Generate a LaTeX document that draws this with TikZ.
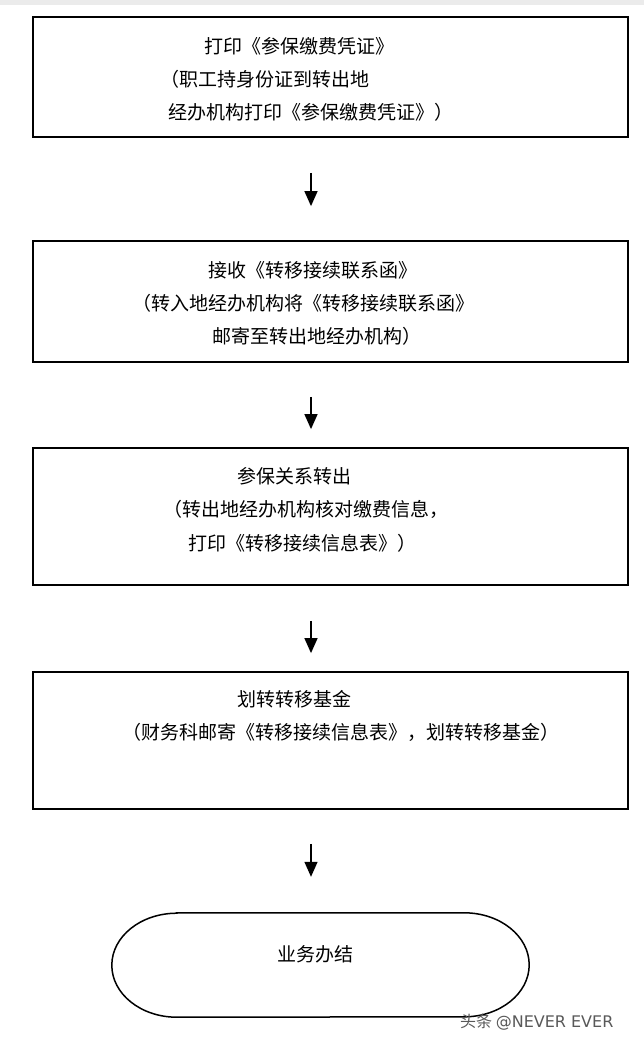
\documentclass[tikz,border=0pt]{standalone}
\usepackage{fontspec}
\setmainfont{Noto Sans CJK SC}
\newfontfamily\wmlatin{DejaVu Sans}
\usetikzlibrary{arrows.meta}
\tikzset{
  x=1pt,y=1pt,
  stepbox/.style={draw=black,line width=1.8pt,rectangle,inner sep=0pt,minimum width=595pt},
  txt/.style={anchor=west,inner sep=0pt,font=\fontsize{19}{23}\selectfont},
  arr/.style={line width=1.4pt,-{Triangle[length=15pt,width=13pt]}},
  wm/.style={anchor=west,inner sep=0pt,text=black!65,font=\fontsize{16}{19}\selectfont}
}
\begin{document}
\begin{tikzpicture}
\useasboundingbox (0,0) rectangle (644,-1045);
\fill[white] (0,0) rectangle (644,-1045);
\fill[black!8] (0,0) rectangle (644,-5);
% boxes
\node[stepbox,minimum height=120pt] (b1) at (330.5,-77) {};
\node[stepbox,minimum height=121pt] (b2) at (330.5,-301.5) {};
\node[stepbox,minimum height=137pt] (b3) at (330.5,-516.5) {};
\node[stepbox,minimum height=137pt] (b4) at (330.5,-740.5) {};
\node[minimum width=417pt,minimum height=104pt,inner sep=0pt] (end) at (320.5,-965) {};
\draw[line width=1.5pt] ([xshift=65pt]end.north west) -- ([xshift=-65pt]end.north east)
  arc[start angle=90,end angle=-90,x radius=65pt,y radius=52pt]
  -- ([xshift=65pt]end.south west)
  arc[start angle=270,end angle=90,x radius=65pt,y radius=52pt] -- cycle;
% texts
\node[txt] (t11) at (204,-46) {打印《参保缴费凭证》};
\node[txt] (t12) at (160,-79) {（职工持身份证到转出地};
\node[txt] (t13) at (168,-112) {经办机构打印《参保缴费凭证》）};
\node[txt] (t21) at (208,-270) {接收《转移接续联系函》};
\node[txt] (t22) at (132,-303) {（转入地经办机构将《转移接续联系函》};
\node[txt] (t23) at (212,-336) {邮寄至转出地经办机构）};
\node[txt] (t31) at (237,-476) {参保关系转出};
\node[txt] (t32) at (163,-509) {（转出地经办机构核对缴费信息，};
\node[txt] (t33) at (188,-543) {打印《转移接续信息表》）};
\node[txt] (t41) at (237,-699) {划转转移基金};
\node[txt] (t42) at (122,-732) {（财务科邮寄《转移接续信息表》，划转转移基金）};
\node[txt,anchor=center] (t51) at (315,-954) {业务办结};
\node[wm] (wm) at (460,-1022) {头条 {\wmlatin @NEVER EVER}};
% arrows
\draw[arr] ([xshift=-19.5pt,yshift=-35pt]b1.south) -- ([xshift=-19.5pt,yshift=34pt]b2.north);
\draw[arr] ([xshift=-19.5pt,yshift=-34pt]b2.south) -- ([xshift=-19.5pt,yshift=18pt]b3.north);
\draw[arr] ([xshift=-19.5pt,yshift=-35pt]b3.south) -- ([xshift=-19.5pt,yshift=18pt]b4.north);
\draw[arr] ([xshift=-19.5pt,yshift=-34pt]b4.south) -- ([xshift=-9.5pt,yshift=36pt]end.north);
\end{tikzpicture}
\end{document}
